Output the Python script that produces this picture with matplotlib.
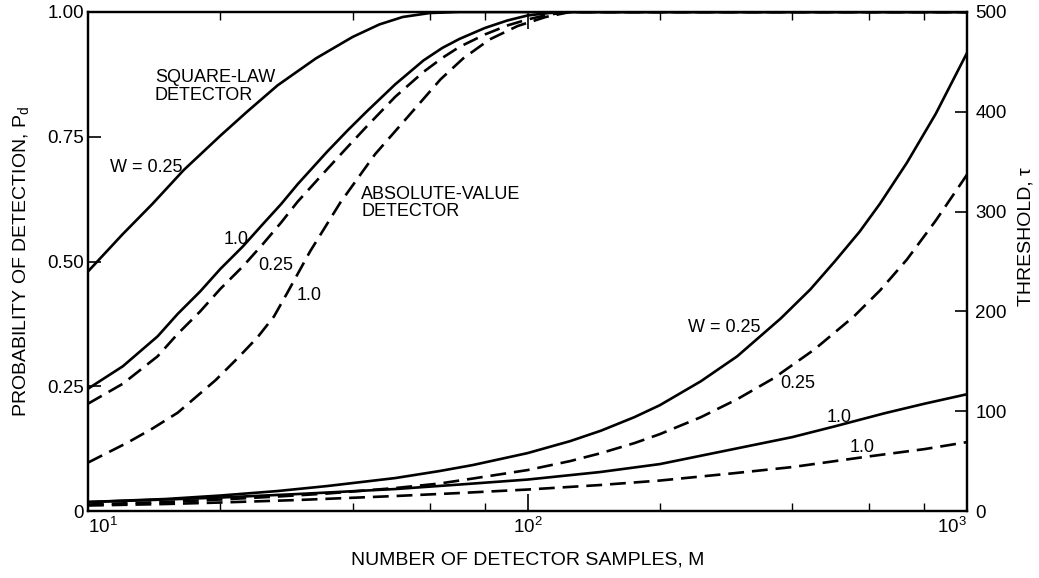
import matplotlib
matplotlib.use("Agg")
import matplotlib.pyplot as plt
from matplotlib.ticker import FixedLocator, NullFormatter

plt.rcParams['font.family'] = ['Liberation Sans', 'DejaVu Sans']
plt.rcParams['mathtext.default'] = 'regular'
plt.rcParams['font.size'] = 13

# probability of detection vs number of samples M
sq_w025_m = [10, 12, 14, 16.5, 20, 23, 27, 33, 40, 46, 52, 60, 70, 1000]
sq_w025_pd = [0.48, 0.555, 0.615, 0.683, 0.752, 0.80, 0.853, 0.907, 0.95, 0.975, 0.99, 0.998, 1.0, 1.0]

sq_w1_m = [10, 12, 14.4, 16, 18, 20, 22.5, 25, 27.5, 30, 35, 39, 43, 50, 58, 64, 70, 80, 90, 100, 112, 125, 1000]
sq_w1_pd = [0.245, 0.29, 0.35, 0.395, 0.44, 0.485, 0.53, 0.575, 0.615, 0.655, 0.72, 0.763, 0.80, 0.855, 0.903, 0.928, 0.946, 0.968, 0.983, 0.993, 0.998, 1.0, 1.0]

abs_w025_m = [10, 12, 14.4, 16, 18, 20, 22.5, 25, 27.5, 30, 35, 39, 43, 50, 58, 64, 70, 80, 90, 100, 112, 125, 1000]
abs_w025_pd = [0.215, 0.255, 0.31, 0.355, 0.40, 0.445, 0.49, 0.535, 0.578, 0.62, 0.685, 0.73, 0.77, 0.83, 0.88, 0.908, 0.93, 0.955, 0.973, 0.985, 0.995, 1.0, 1.0]

abs_w1_m = [10, 12.3, 14, 16, 19.5, 22, 24.3, 26.5, 28.4, 32, 37.5, 45, 53.3, 63.4, 71.4, 82, 95, 110, 125, 1000]
abs_w1_pd = [0.097, 0.137, 0.165, 0.197, 0.262, 0.308, 0.348, 0.39, 0.437, 0.52, 0.618, 0.715, 0.789, 0.865, 0.907, 0.945, 0.972, 0.99, 1.0, 1.0]

# threshold tau vs M
sq_w025_tm = [10, 15, 20, 27, 35, 50, 63, 75, 100, 125, 147, 175, 200, 248, 300, 377, 440, 500,
              570, 634, 730, 849, 1000]
sq_w025_tau = [9, 12, 15.5, 20, 25, 33, 40, 46, 58, 70, 80.5, 94, 106, 130, 155, 193, 222, 250,
               280, 308, 349, 398, 459]

abs_w025_tm = [10, 15, 20, 27, 35, 50, 63, 75, 100, 125, 147, 175, 200, 248, 300, 363, 450, 553,
               634, 730, 849, 1000]
abs_w025_tau = [6.5, 9, 11.5, 14.5, 17.5, 23, 27.5, 32.5, 41, 50, 58, 68, 77, 94, 112, 133, 162, 195,
                221, 252, 291, 337]

sq_w1_tm = [10, 15, 20, 30, 50, 70, 100, 146, 200, 294, 400, 497, 650, 800, 1000]
sq_w1_tau = [9, 11.5, 13.5, 17, 22, 26.5, 31.5, 39, 47, 62, 74, 84.5, 98, 107.5, 117]

abs_w1_tm = [10, 15, 20, 30, 50, 70, 100, 146, 200, 294, 400, 591, 800, 1000]
abs_w1_tau = [5.5, 7, 8.5, 11, 15, 18, 21.5, 26, 30.5, 37.8, 44, 54.4, 62, 69]

x_ticks = [10, 100, 1000]
x_labels = ['$10^1$', '$10^2$', '$10^3$']
x_minor = [20, 40, 60, 80, 200, 400, 600, 800]
pd_ticks = [0, 0.25, 0.5, 0.75, 1.0]
pd_labels = ['0', '0.25', '0.50', '0.75', '1.00']
tau_ticks = [0, 100, 200, 300, 400, 500]

fig = plt.figure(figsize=(10.39, 5.78), dpi=100)
ax = fig.add_axes([88 / 1039, 67 / 578, 879 / 1039, 499 / 578])
ax2 = ax.twinx()

lw = 1.9
dash = (6, 3)
ax.plot(sq_w025_m, sq_w025_pd, color='black', lw=lw)
ax.plot(sq_w1_m, sq_w1_pd, color='black', lw=lw)
ax.plot(abs_w025_m, abs_w025_pd, color='black', lw=lw, dashes=dash)
ax.plot(abs_w1_m, abs_w1_pd, color='black', lw=lw, dashes=dash)

ax2.plot(sq_w025_tm, sq_w025_tau, color='black', lw=lw)
ax2.plot(sq_w1_tm, sq_w1_tau, color='black', lw=lw)
ax2.plot(abs_w025_tm, abs_w025_tau, color='black', lw=lw, dashes=dash)
ax2.plot(abs_w1_tm, abs_w1_tau, color='black', lw=lw, dashes=dash)

ax.set_xscale('log')
ax.set_xlim(10, 1000)
ax.set_ylim(0, 1)
ax2.set_ylim(0, 500)

ax.set_xticks(x_ticks)
ax.set_xticklabels(x_labels)
ax.xaxis.set_minor_locator(FixedLocator(x_minor))
ax.xaxis.set_minor_formatter(NullFormatter())
ax.set_yticks(pd_ticks)
ax.set_yticklabels(pd_labels, fontsize=13.5)
ax2.set_yticks(tau_ticks)
ax2.set_yticklabels([str(t) for t in tau_ticks], fontsize=13.5)

# keep the end decade labels inside the frame corners
xl = ax.get_xticklabels()
xl[0].set_ha('left')
xl[-1].set_ha('right')
for t in xl:
    t.set_fontsize(13.5)

ax.tick_params(axis='x', which='major', direction='in', length=12, width=1.2, top=True, pad=4)
ax.tick_params(axis='x', which='minor', direction='in', length=6, width=1.0, top=True)
ax.tick_params(axis='y', direction='in', length=9, width=1.2, pad=3)
ax2.tick_params(axis='y', direction='in', length=9, width=1.2, pad=6)

for a in (ax, ax2):
    for s in a.spines.values():
        s.set_linewidth(1.6)

ax.set_xlabel('NUMBER OF DETECTOR SAMPLES, M', fontsize=14, labelpad=11)
ax.set_ylabel('PROBABILITY OF DETECTION, P$_d$', fontsize=14)
ax.yaxis.set_label_coords(-0.065, 0.5)
ax2.set_ylabel('THRESHOLD, τ', fontsize=14, rotation=90)
ax2.yaxis.set_label_coords(1.057, 0.55)

# curve labels
ax.text(14.2, 0.885, 'SQUARE-LAW\nDETECTOR', ha='left', va='top', linespacing=1.05)
ax.text(11.2, 0.689, 'W = 0.25', ha='left', va='center')
ax.text(21.7, 0.545, '1.0', ha='center', va='center')
ax.text(26.8, 0.491, '0.25', ha='center', va='center')
ax.text(31.9, 0.431, '1.0', ha='center', va='center')
ax.text(41.8, 0.652, 'ABSOLUTE-VALUE\nDETECTOR', ha='left', va='top', linespacing=1.05)

ax2.text(280, 184, 'W = 0.25', ha='center', va='center')
ax2.text(412, 128, '0.25', ha='center', va='center')
ax2.text(512, 94, '1.0', ha='center', va='center')
ax2.text(577, 64, '1.0', ha='center', va='center')

fig.savefig('out.png', dpi=100)
